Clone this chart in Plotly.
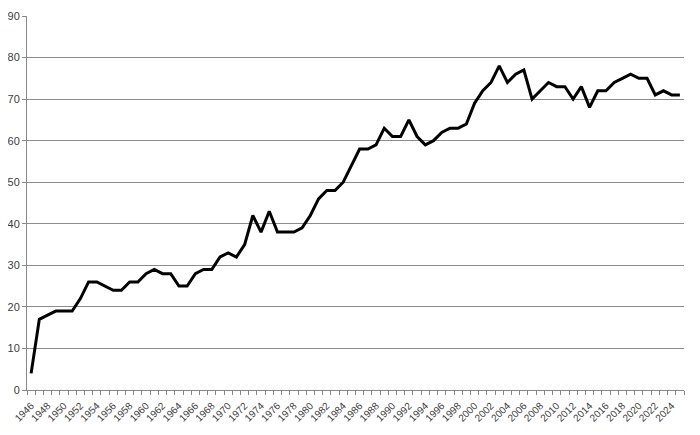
import plotly.graph_objects as go

years = list(range(1946, 2026))
values = [4, 17, 18, 19, 19, 19, 22, 26, 26, 25,
          24, 24, 26, 26, 28, 29, 28, 28, 25, 25,
          28, 29, 29, 32, 33, 32, 35, 42, 38, 43,
          38, 38, 38, 39, 42, 46, 48, 48, 50, 54,
          58, 58, 59, 63, 61, 61, 65, 61, 59, 60,
          62, 63, 63, 64, 69, 72, 74, 78, 74, 76,
          77, 70, 72, 74, 73, 73, 70, 73, 68, 72,
          72, 74, 75, 76, 75, 75, 71, 72, 71, 71]
x_labels = list(range(1946, 2026, 2))
y_ticks = list(range(0, 100, 10))

fig = go.Figure()
fig.add_trace(go.Scatter(x=years, y=values, mode="lines",
                         line=dict(color="black", width=3), hoverinfo="x+y"))

fig.update_layout(
    width=692, height=427,
    margin=dict(l=19, r=16, t=8, b=45),
    paper_bgcolor="white", plot_bgcolor="white",
    showlegend=False,
    font=dict(family="Liberation Sans, Arial, sans-serif", size=10, color="#404040"),
)
fig.update_xaxes(
    range=[1945.5, 2025.5], automargin=False,
    tickvals=x_labels, ticktext=[str(v) for v in x_labels],
    tickangle=-45, ticks="", showgrid=False, ticklabelstandoff=5,
    showline=True, linecolor="#888888", linewidth=1,
    tickfont=dict(size=10),
    minor=dict(tickvals=[y - 0.5 for y in range(1946, 2027)], ticks="outside",
               ticklen=4, tickcolor="#888888", showgrid=False),
)
fig.update_yaxes(
    range=[0, 90], tickvals=y_ticks, automargin=False,
    showgrid=True, gridcolor="#8c8c8c", gridwidth=1,
    showline=True, linecolor="#888888", linewidth=1,
    ticks="outside", ticklen=4, tickcolor="#888888",
    tickfont=dict(size=11), zeroline=False,
)

fig.write_html("out.html")
